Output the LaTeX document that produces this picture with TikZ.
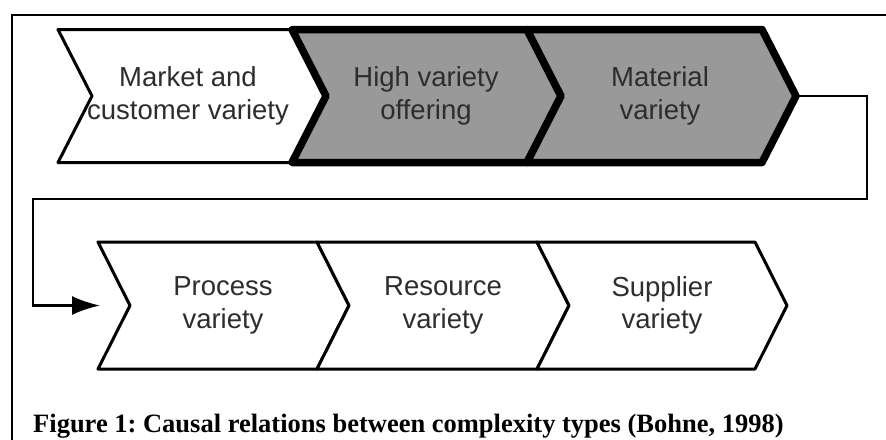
\documentclass[tikz,border=0pt]{standalone}
\usepackage{fontspec}
\setmainfont{Liberation Serif}
\newfontfamily\labelfont{Liberation Sans}
\usetikzlibrary{arrows.meta}
\definecolor{boxgray}{RGB}{153,153,153}
\definecolor{labelgray}{RGB}{45,45,45}
% chevron outline: x-left, x-right, top, bottom, point depth, style
\newcommand\chevron[6]{%
  \path[#6] (#1,#3) -- (#2,#3) -- ({#2+#5},{(#3+#4)/2}) -- (#2,#4) -- (#1,#4)
    -- ({#1+#5},{(#3+#4)/2}) -- cycle;}
\frenchspacing
\begin{document}
\begin{tikzpicture}[x=1pt,y=-1pt,
  thinchev/.style={draw=black,line width=3pt,line join=round,fill=white},
  thickchev/.style={draw=black,line width=7.5pt,line join=round,fill=boxgray},
  lbl/.style={font=\labelfont\fontsize{27.5}{32.5}\selectfont,text=labelgray,
    align=center,inner sep=0pt},
  flow/.style={draw=black,line width=2.5pt,line join=miter},
  frame/.style={draw=black,line width=2pt}]
\useasboundingbox (0,0) rectangle (886,439);
\clip (0,0) rectangle (886,439);

% outer frame (runs past the right and bottom edges)
\draw[frame] (12,460) -- (12,15) -- (900,15);

% upper row
\chevron{58}{292}{29.5}{162.5}{34}{thinchev}
\chevron{292}{527}{29.5}{162.5}{34}{thickchev}
\chevron{527}{762}{29.5}{162.5}{34}{thickchev}
\coordinate (mattip) at (796,96);

% lower row
\chevron{98}{317}{242}{369}{32}{thinchev}
\chevron{317}{537}{242}{369}{32}{thinchev}
\chevron{537}{755}{242}{369}{32}{thinchev}
\coordinate (procin) at (130,305.5);

% labels
\node[lbl] (mkt) at (188,96) {Market and\\customer variety};
\node[lbl] (hvo) at (426,96) {High variety\\offering};
\node[lbl] (mat) at (660,96) {Material\\variety};
\node[lbl] (proc) at (223,305.5) {Process\\variety};
\node[lbl] (res) at (443,305.5) {Resource\\variety};
\node[lbl] (sup) at (662,305.5) {Supplier\\variety};

% return connector from the upper row to the lower row
\draw[flow,-{Latex[length=28pt,width=19pt]},shorten >=30pt]
  (mattip) -- (867,96) -- (867,199) -- (33,199) -- (33,305.5) -- (procin);

% caption
\node[anchor=base west,inner sep=0pt,font=\bfseries\fontsize{26.5}{30}\selectfont]
  (cap) at (33,432) {Figure 1: Causal relations between complexity types (Bohne, 1998)};
\end{tikzpicture}
\end{document}
